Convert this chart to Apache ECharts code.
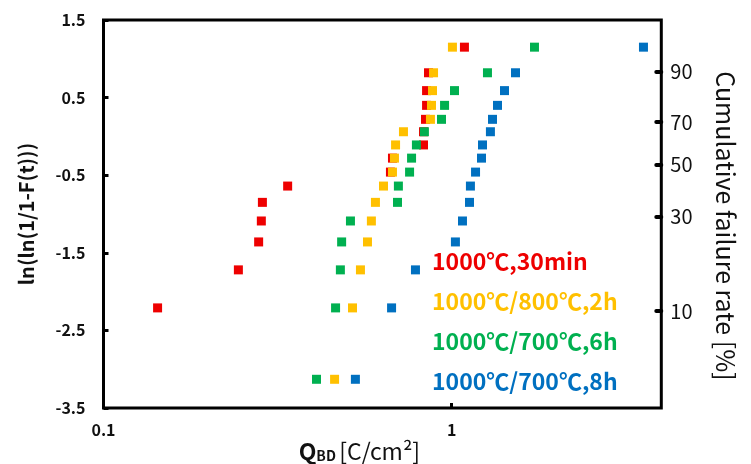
<!DOCTYPE html>
<html><head><meta charset="utf-8">
<script src="https://cdn.jsdelivr.net/npm/echarts@6/dist/echarts.min.js"></script>
<style>html,body{margin:0;padding:0;background:#fff}#c{width:751px;height:464px}</style>
</head><body><div id="c"></div>
<script>
// ---- data ----
const seriesNames = ['1000℃,30min', '1000℃/800℃,2h', '1000℃/700℃,6h', '1000℃/700℃,8h'];
const seriesColors = ['#EE0000', '#FFC000', '#00B050', '#0070C0'];
// ln(ln(1/(1-F))) levels (rank 1..16)
const rankLevels = [-3.13, -2.21, -1.72, -1.36, -1.09, -0.85, -0.64, -0.46, -0.28, -0.11, 0.06, 0.22, 0.40, 0.59, 0.82, 1.15];
// Q_BD [C/cm2] per rank (null = no point)
const q30min = [null, 0.143, 0.244, 0.279, 0.284, 0.286, 0.338, 0.667, 0.676, 0.830, 0.830, 0.841, 0.847, 0.847, 0.858, 1.088];
const q800_2h = [0.461, 0.519, 0.547, 0.573, 0.588, 0.604, 0.637, 0.676, 0.685, 0.690, 0.727, 0.869, 0.875, 0.881, 0.887, 1.005];
const q700_6h = [0.409, 0.464, 0.479, 0.483, 0.512, 0.699, 0.703, 0.757, 0.767, 0.792, 0.835, 0.935, 0.954, 1.019, 1.267, 1.729];
const q700_8h = [0.529, 0.672, 0.787, 1.025, 1.074, 1.125, 1.132, 1.171, 1.218, 1.226, 1.292, 1.310, 1.354, 1.418, 1.525, 3.555];
const yTicks = [-3.5, -2.5, -1.5, -0.5, 0.5, 1.5];
const rateTicks = [10, 30, 50, 70, 90];

const FONT = '"Noto Sans CJK JP", "Noto Sans", sans-serif';
const allQ = [q30min, q800_2h, q700_6h, q700_8h];
const weib = p => Math.log(-Math.log(1 - p / 100));
const ratePos = rateTicks.map(weib);

const chart = echarts.init(document.getElementById('c'), null, {renderer: 'canvas'});
chart.setOption({
  animation: false,
  backgroundColor: '#fff',
  grid: {left: 103.5, right: 89.7, top: 20, bottom: 56, containLabel: false, outerBoundsMode: 'none',
    show: true, borderColor: '#000', borderWidth: 3, backgroundColor: 'transparent'},
  legend: {
    orient: 'vertical', left: 422, top: 242, itemWidth: 0, itemHeight: 0, itemGap: 12,
    icon: 'rect', selectedMode: false,
    textStyle: {fontFamily: FONT, fontSize: 23, fontWeight: 'bold', lineHeight: 28},
    data: seriesNames.map((n, i) => ({name: n, textStyle: {color: seriesColors[i]}}))
  },
  xAxis: {
    type: 'log', logBase: 10, min: 0.1, max: 4,
    name: '{q|Q}{s|BD} {n|[C/cm²]}', nameLocation: 'middle', nameGap: 32, nameMoveOverlap: false,
    nameTextStyle: {padding: [0, 46, 0, 0], rich: {
      q: {fontFamily: FONT, fontSize: 23, color: '#111', fontWeight: 'bold'},
      s: {fontFamily: FONT, fontSize: 14, color: '#111', fontWeight: 'bold', padding: [9, 0, 0, 0]},
      n: {fontFamily: FONT, fontSize: 23, color: '#111'}
    }},
    axisLine: {show: false, onZero: false},
    axisTick: {show: true, inside: true, length: 5, lineStyle: {color: '#000', width: 3}},
    axisLabel: {fontFamily: FONT, fontSize: 16, fontWeight: 'bold', color: '#111', margin: 14,
      showMaxLabel: false, formatter: v => String(v)},
    splitLine: {show: false}, minorTick: {show: false}
  },
  yAxis: [{
    type: 'value', min: -3.5, max: 1.5, position: 'left',
    name: 'ln(ln(1/1-F(t)))', nameLocation: 'middle', nameGap: 67,
    nameTextStyle: {fontFamily: FONT, fontSize: 20, fontWeight: 'bold', color: '#111'},
    axisLine: {show: false, onZero: false},
    axisTick: {show: true, inside: true, length: 5, customValues: yTicks, lineStyle: {color: '#000', width: 3}},
    axisLabel: {fontFamily: FONT, fontSize: 16, fontWeight: 'bold', color: '#111', margin: 18,
      customValues: yTicks, formatter: v => v.toFixed(1)},
    splitLine: {show: false}
  }, {
    type: 'value', min: -3.5, max: 1.5, position: 'right',
    name: 'Cumulative failure rate [%]', nameLocation: 'middle', nameGap: 52, nameRotate: -90,
    nameTextStyle: {fontFamily: FONT, fontSize: 25, color: '#111', padding: [0, 0, 0, 24]},
    axisLine: {show: false, onZero: false},
    axisTick: {show: true, inside: true, length: 5, customValues: ratePos, lineStyle: {color: '#000', width: 4, cap: 'round'}},
    axisLabel: {fontFamily: FONT, fontSize: 20, color: '#111', margin: 9,
      customValues: ratePos,
      formatter: v => {
        let best = rateTicks[0], d = 1e9;
        rateTicks.forEach(p => { const dd = Math.abs(weib(p) - v); if (dd < d) { d = dd; best = p; } });
        return String(best);
      }},
    splitLine: {show: false}
  }],
  series: seriesNames.map((n, i) => ({
    name: n, type: 'scatter', symbol: 'rect', symbolSize: 9,
    itemStyle: {color: seriesColors[i], opacity: 1},
    emphasis: {disabled: true},
    data: allQ[i].map((q, k) => q == null ? null : [q, rankLevels[k]]).filter(d => d)
  }))
});
</script></body></html>
